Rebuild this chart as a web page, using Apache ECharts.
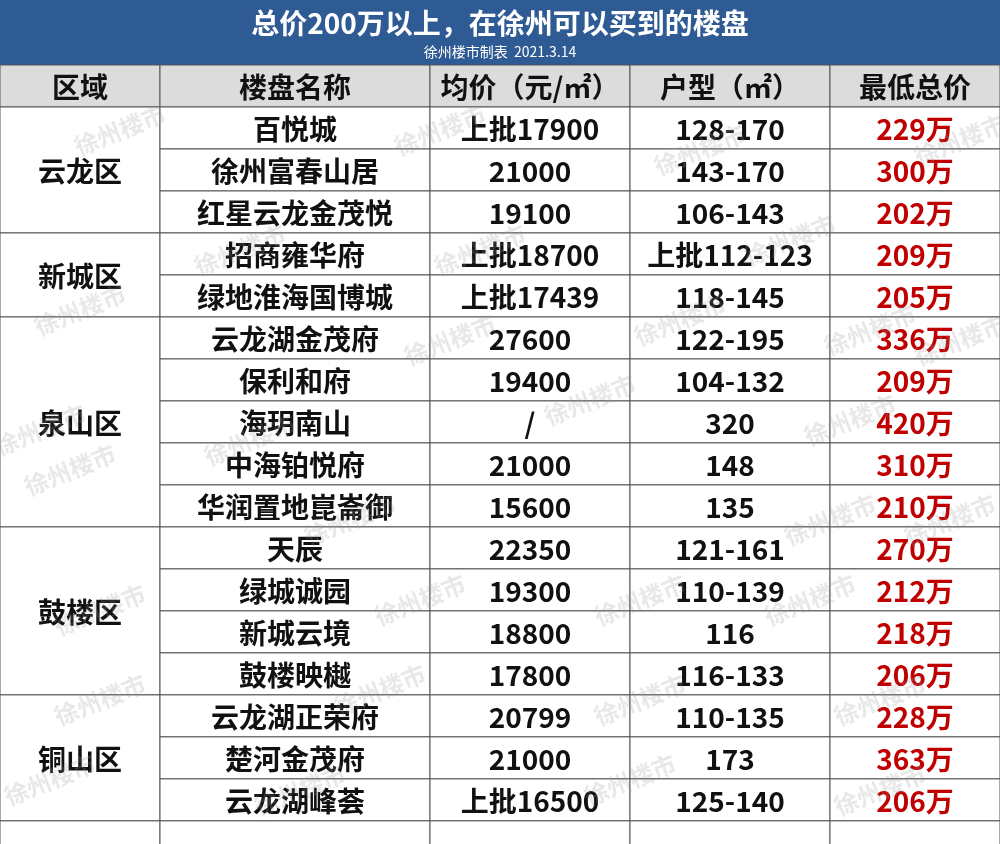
<!DOCTYPE html>
<html><head><meta charset="utf-8">
<script src="https://cdn.jsdelivr.net/npm/echarts@6/dist/echarts.min.js"></script>
<style>html,body{margin:0;padding:0;background:#fff}#c{width:1000px;height:844px}</style>
</head><body><div id="c"></div>
<script>
const title = '总价200万以上，在徐州可以买到的楼盘';
const subtitle = '徐州楼市制表  2021.3.14';
const headers = ['区域','楼盘名称','均价（元/㎡）','户型（㎡）','最低总价'];
const regions = ['云龙区','新城区','泉山区','鼓楼区','铜山区'];
const regionSpans = [3,2,5,4,3];
const names = ['百悦城','徐州富春山居','红星云龙金茂悦','招商雍华府','绿地淮海国博城','云龙湖金茂府','保利和府','海玥南山','中海铂悦府','华润置地崑崙御','天辰','绿城诚园','新城云境','鼓楼映樾','云龙湖正荣府','楚河金茂府','云龙湖峰荟'];
const prices = ['上批17900','21000','19100','上批18700','上批17439','27600','19400','/','21000','15600','22350','19300','18800','17800','20799','21000','上批16500'];
const sizes = ['128-170','143-170','106-143','上批112-123','118-145','122-195','104-132','320','148','135','121-161','110-139','116','116-133','110-135','173','125-140'];
const totals = [229,300,202,209,205,336,209,420,310,210,270,212,218,206,228,363,206];

const colEdges = [0,160,430,630,830,1000];
const cells = [];
headers.forEach((h,i)=>cells.push({value:[i,-1,1,h],kind:'head'}));
let r=0;
regions.forEach((g,i)=>{cells.push({value:[0,r,regionSpans[i],g],kind:'region'}); r+=regionSpans[i];});
names.forEach((n,i)=>{
  cells.push({value:[1,i,1,n],kind:'body'});
  cells.push({value:[2,i,1,prices[i]],kind:'body'});
  cells.push({value:[3,i,1,sizes[i]],kind:'body'});
  cells.push({value:[4,i,1,totals[i]+'万'],kind:'total'});
});
for(let c=0;c<5;c++) cells.push({value:[c,17,1,''],kind:'body'});

const font = '"Noto Sans CJK SC", sans-serif';
const wm = [];
const wmPos = [[120,130],[440,130],[700,150],[960,140],[80,310],[450,340],[680,320],[870,330],[40,430],[250,440],[590,400],[850,420],[100,610],[420,600],[640,600],[810,600],[100,700],[380,690],[640,700],[880,700],[50,780],[300,790],[630,780],[880,790],[950,520],[70,470],[350,520],[830,520],[960,340],[240,250],[480,250],[790,240]];
wmPos.forEach(p=>wm.push({type:'text',x:p[0],y:p[1],rotation:0.38,z:100,style:{text:'徐州楼市',font:'bold 24px '+font,fill:'rgba(150,150,150,0.22)',align:'center',verticalAlign:'middle'}}));

const chart = echarts.init(document.getElementById('c'));
chart.setOption({
  animation:false,
  grid:{left:0,right:0,top:65,bottom:0},
  xAxis:{type:'value',min:0,max:5,show:false},
  yAxis:{type:'value',min:-1.5,max:17.05,inverse:true,show:false},
  graphic:[
    {type:'rect',shape:{x:0,y:0,width:1000,height:65},style:{fill:'#2F5B95'}},
    {type:'text',x:500,y:23,style:{text:title,font:'bold 28px '+font,fill:'#fff',align:'center',verticalAlign:'middle'}},
    {type:'text',x:500,y:52,style:{text:subtitle,font:'14px '+font,fill:'#fff',align:'center',verticalAlign:'middle'}},
    ...wm
  ],
  series:[{
    type:'custom',
    data:cells,
    renderItem:(params,api)=>{
      const c=api.value(0), row=api.value(1), span=api.value(2);
      const item=cells[params.dataIndex];
      const y0=api.coord([0,row-0.5])[1], y1=api.coord([0,row-0.5+span])[1];
      const x0=colEdges[c], x1=colEdges[c+1];
      const isHead=item.kind==='head';
      return {type:'group',children:[
        {type:'rect',shape:{x:x0,y:y0,width:x1-x0,height:y1-y0},style:{fill:isHead?'#DCDCDC':'#fff',stroke:'#555',lineWidth:1}},
        {type:'text',style:{text:item.value[3],x:(x0+x1)/2,y:(y0+y1)/2+1,align:'center',verticalAlign:'middle',font:'bold 28px '+font,fill:item.kind==='total'?'#C00000':'#111'}}
      ]};
    }
  }]
});
</script></body></html>
